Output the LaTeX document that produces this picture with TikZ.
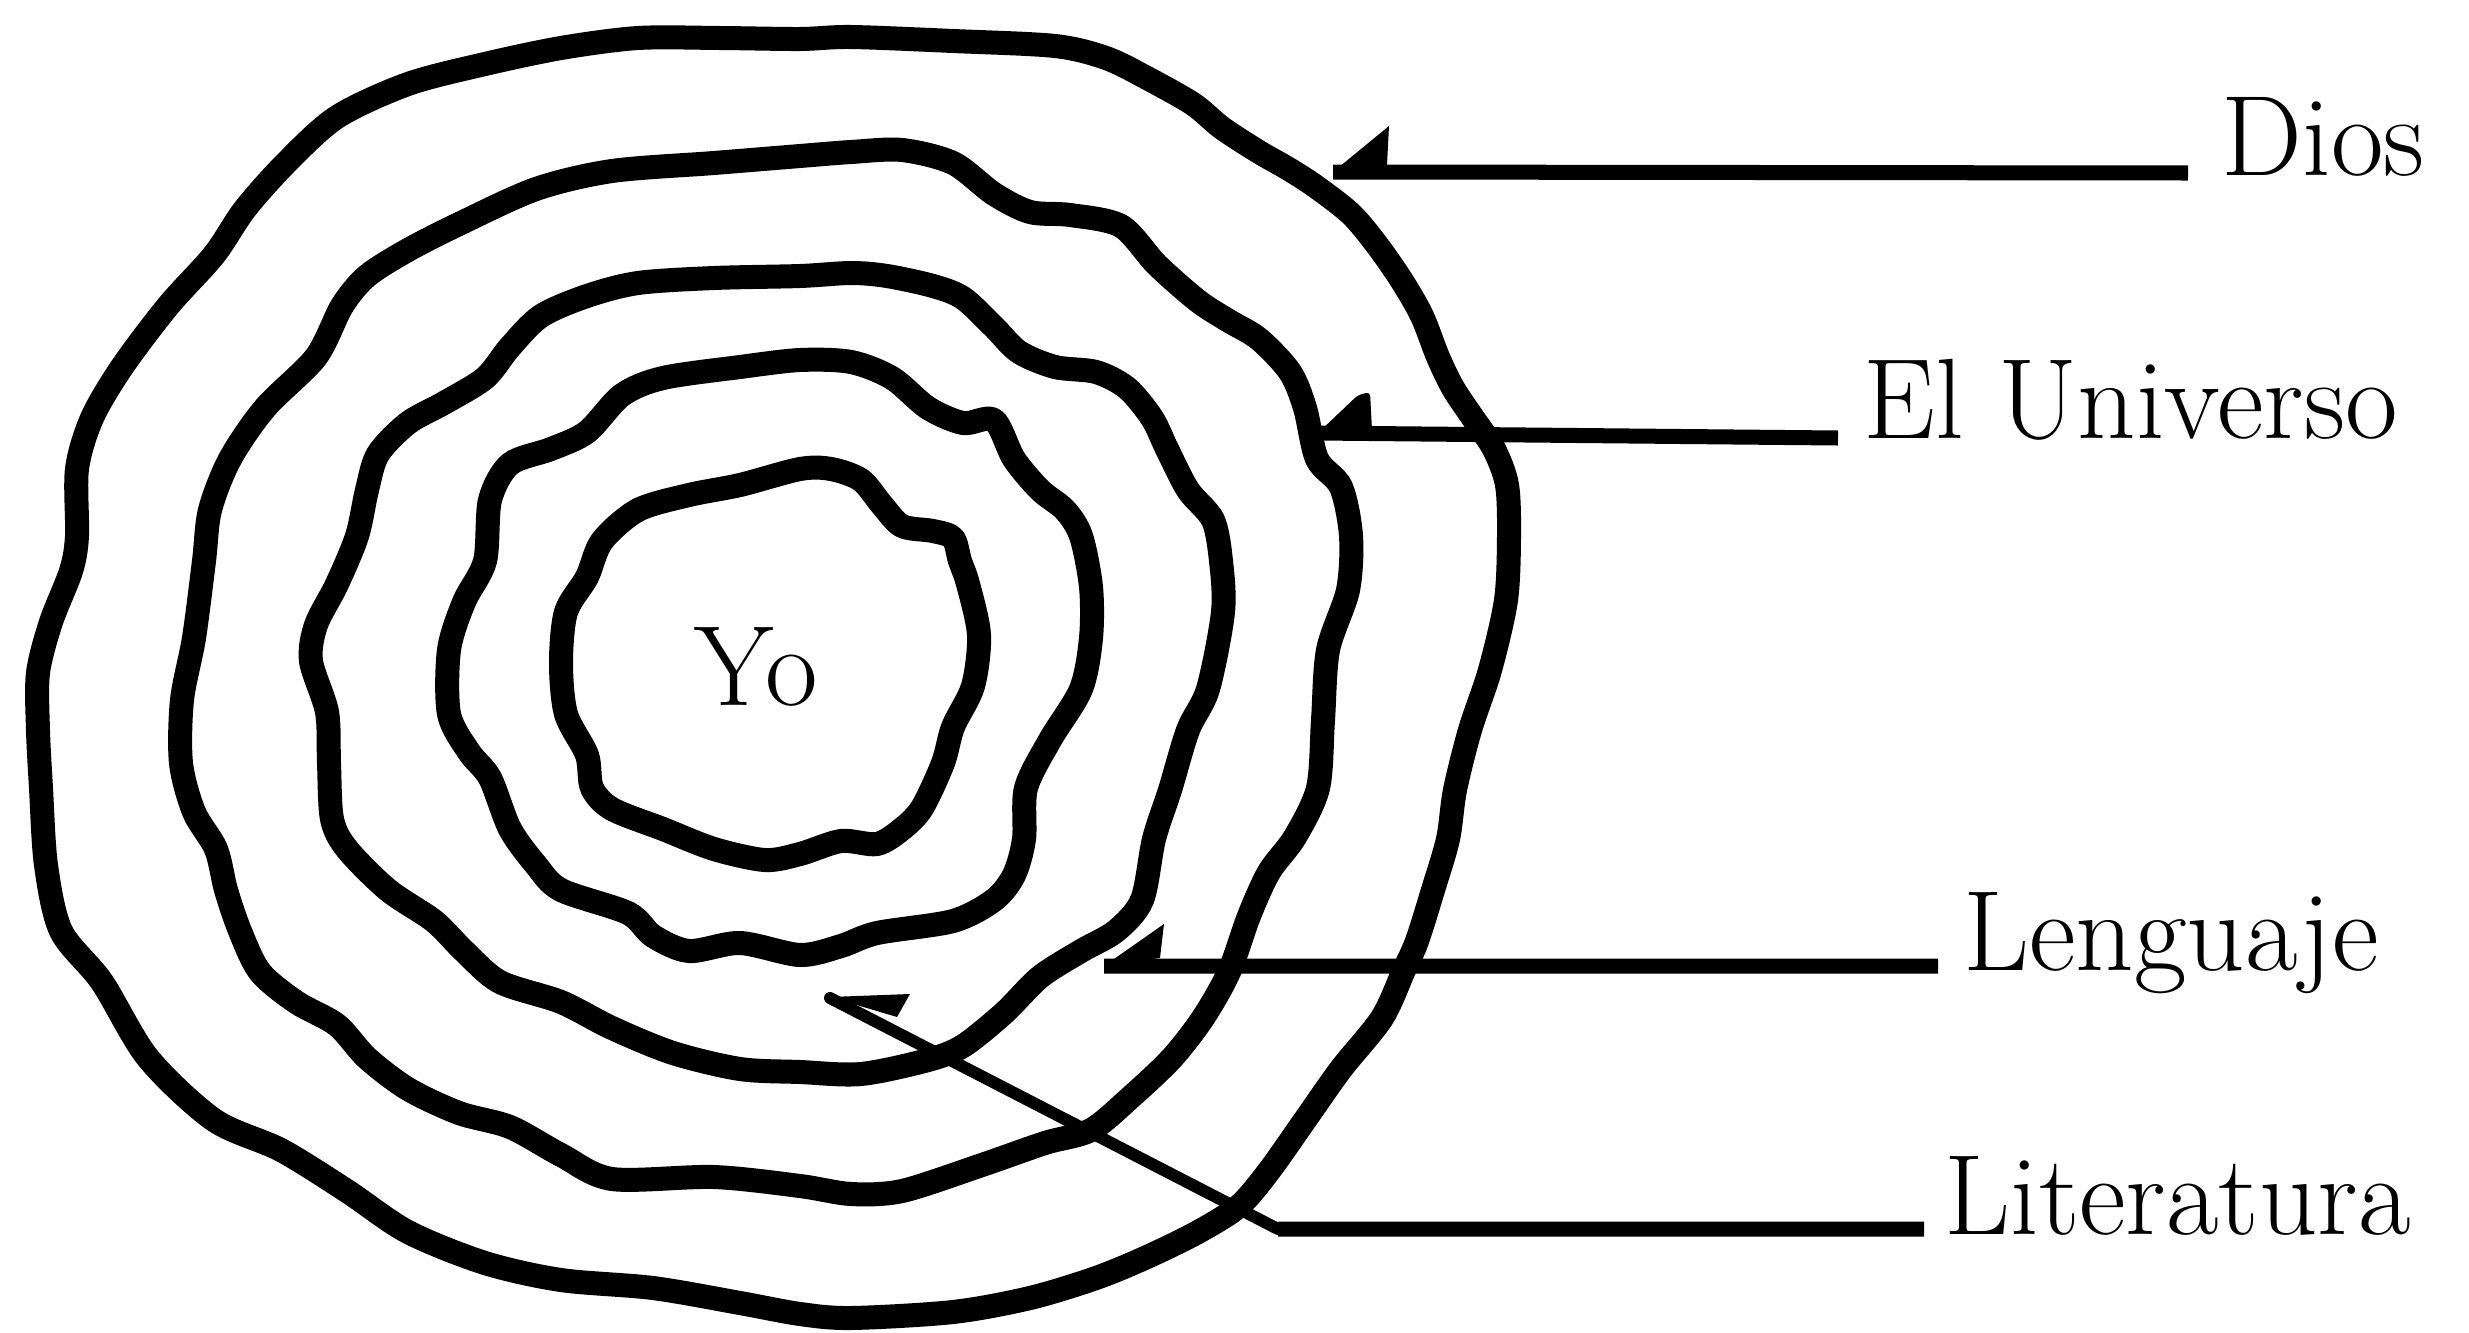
\documentclass[tikz,border=0pt]{standalone}
\begin{document}
\begin{tikzpicture}[x=0.01cm,y=-0.01cm,
  ring/.style={line width=0.24cm, line join=round},
  pointer/.style={line width=0.15cm},
  thinpointer/.style={line width=0.12cm, line cap=round, line join=round},
  barb/.style={fill=black},
  lab/.style={anchor=base west, inner sep=0pt, font=\fontsize{32.5}{39}\selectfont}]
\useasboundingbox (0,0) rectangle (2469,1333);
% rings
\draw[ring] plot[smooth cycle] coordinates {(286,163) (337,117) (408,84) (485,64) (561,48) (638,38) (720,38) (800,39) (851,37) (953,41) (1055,46) (1106,58) (1147,78) (1193,104) (1222,128) (1259,152) (1287,168) (1315,186) (1351,214) (1377,245) (1402,281) (1422,316) (1438,357) (1453,388) (1473,418) (1494,449) (1507,485) (1509,536) (1506,600) (1490,670) (1470,730) (1455,790) (1448,839) (1433,890) (1417,941) (1404,970) (1382,1018) (1341,1069) (1305,1120) (1269,1171) (1239,1206) (1198,1232) (1147,1257) (1096,1278) (1030,1298) (953,1312) (851,1318) (800,1314) (740,1303) (653,1288) (561,1280) (485,1263) (408,1232) (347,1191) (281,1150) (214,1120) (148,1058) (102,982) (61,931) (46,865) (41,788) (38,730) (38,673) (51,622) (71,571) (77,536) (77,469) (92,418) (122,367) (168,306) (214,255) (245,209)};
\draw[ring] plot[smooth cycle] coordinates {(536,189) (612,171) (714,163) (800,156) (851,152) (902,150) (953,163) (994,194) (1030,212) (1070,215) (1121,226) (1157,265) (1198,301) (1229,321) (1259,339) (1290,372) (1305,408) (1317,459) (1341,487) (1351,536) (1348,590) (1328,650) (1323,720) (1318,788) (1295,837) (1269,872) (1249,916) (1229,972) (1203,1018) (1172,1058) (1132,1096) (1091,1130) (1045,1143) (979,1166) (902,1191) (851,1194) (800,1186) (714,1177) (612,1179) (561,1155) (510,1127) (459,1113) (408,1089) (367,1058) (337,1025) (296,1002) (260,972) (240,931) (226,890) (216,849) (194,812) (181,763) (182,700) (194,638) (204,561) (210,510) (230,459) (265,408) (316,357) (342,306) (367,276) (408,250) (459,224)};
\draw[ring] plot[smooth cycle] coordinates {(541,316) (587,296) (638,283) (714,278) (800,276) (851,273) (887,276) (933,286) (963,298) (994,327) (1019,352) (1055,367) (1096,372) (1127,388) (1152,418) (1167,449) (1188,490) (1213,520) (1221,561) (1223,612) (1208,689) (1188,730) (1170,790) (1154,839) (1142,900) (1116,931) (1081,951) (1040,977) (1004,1013) (963,1046) (928,1060) (861,1074) (800,1072) (740,1069) (673,1053) (612,1028) (561,1002) (500,982) (464,951) (434,921) (388,890) (347,849) (332,819) (329,763) (327,712) (311,661) (316,625) (337,584) (357,536) (367,490) (378,454) (408,423) (444,403) (485,378) (510,347)};
\draw[ring] plot[smooth cycle] coordinates {(551,449) (587,432) (622,395) (663,378) (740,367) (800,360) (851,362) (892,378) (928,408) (963,423) (994,420) (1014,459) (1040,490) (1065,510) (1081,536) (1091,587) (1091,638) (1081,689) (1050,740) (1026,788) (1024,839) (1014,875) (994,900) (953,921) (877,933) (841,946) (800,955) (740,943) (689,951) (653,936) (628,913) (561,890) (536,865) (510,829) (490,778) (469,752) (449,714) (449,650) (464,602) (485,561) (490,500) (510,464)};
\draw[ring] plot[smooth cycle] coordinates {(602,541) (638,510) (689,495) (740,485) (800,469) (831,469) (861,480) (882,505) (902,526) (933,531) (953,538) (960,561) (968,584) (979,635) (973,686) (953,727) (943,763) (922,808) (902,829) (877,844) (841,841) (800,854) (765,860) (714,849) (663,829) (612,809) (592,788) (587,755) (566,714) (561,663) (566,612) (587,577)};
% labels
\node[lab] (yo) at (694,705) {Yo};
\node[lab] (dios) at (2221,175) {Dios};
\node[lab] (univ) at (1863,438) {El Universo};
\node[lab] (leng) at (1963,970) {Lenguaje};
\node[lab] (lit) at (1944,1234) {Literatura};
% arrow tips
\coordinate (tipD) at (1333,172);
\coordinate (tipU) at (1318,433);
\coordinate (tipL) at (1104,966);
\coordinate (tipT) at (830,998);
\coordinate (bendT) at (1278,1229);
% connectors
\draw[pointer] ([xshift=-0.33cm,yshift=0.02cm]dios.base west) -- (tipD);
\draw[pointer] ([xshift=-0.25cm]univ.base west) -- (tipU);
\draw[pointer] ([xshift=-0.25cm,yshift=0.04cm]leng.base west) -- (tipL);
\draw[pointer] ([xshift=-0.2cm,yshift=0.05cm]lit.base west) -- (bendT);
\draw[thinpointer] (bendT) -- (tipT);
% barbs
\fill[barb] (tipD) -- ++(56,-46) -- ++(-2,39) -- cycle;
\fill[barb, rounded corners=0.04cm] (tipU) -- ++(40,-38) -- ++(12,-3) -- ++(2,38) -- cycle;
\fill[barb] (tipL) -- ++(60,-42) -- ++(-4,34) -- cycle;
\fill[barb] ([yshift=0.01cm]tipT) -- ++(80,-3) -- ++(-13,23) -- cycle;
\end{tikzpicture}
\end{document}
